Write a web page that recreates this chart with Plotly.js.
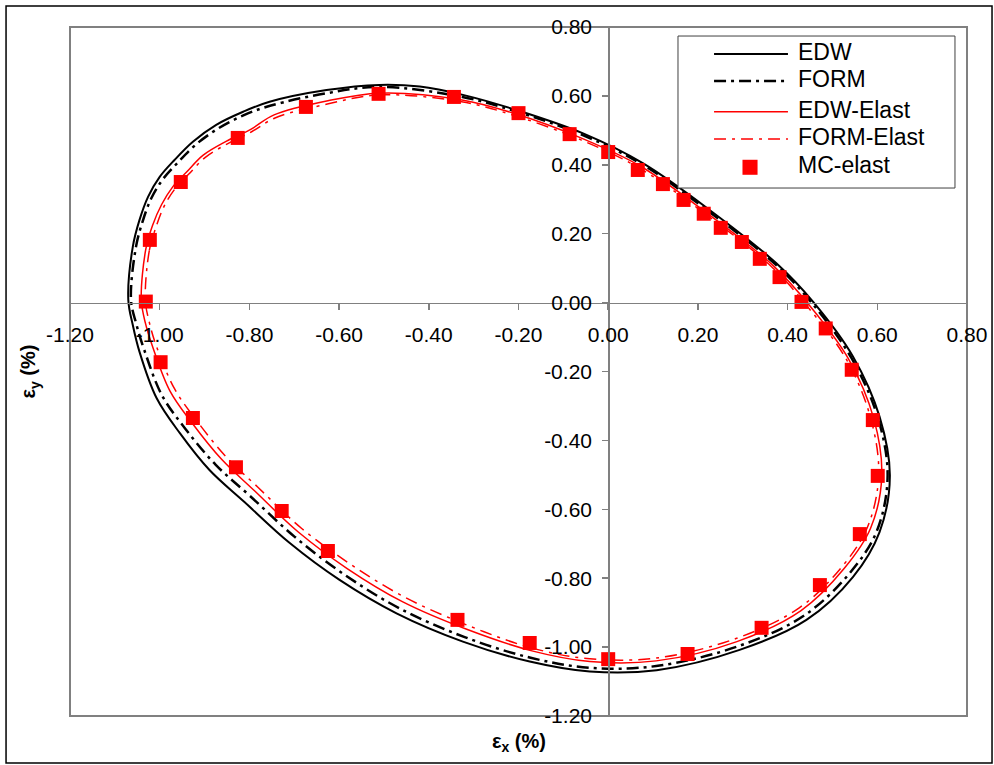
<!DOCTYPE html>
<html>
<head>
<meta charset="utf-8">
<script src="https://cdn.plot.ly/plotly-3.0.1.min.js"></script>
<style>
html,body{margin:0;padding:0;background:#fff;}
#chart{width:994px;height:765px;}
</style>
</head>
<body>
<div id="chart"></div>
<script>
// EDW (black solid)
const edwX = [-1.070,-1.060,-1.045,-1.026,-1.000,-0.967,-0.926,-0.874,-0.814,-0.755,-0.628,-0.510,-0.420,-0.324,-0.205,-0.056,0.078,0.226,0.375,0.457,0.546,0.605,0.628,0.605,0.546,0.442,0.293,0.108,-0.041,-0.175,-0.324,-0.472,-0.599,-0.710,-0.811,-0.889,-0.955,-1.007,-1.045,-1.060,-1.070];
const edwY = [0.008,0.162,0.240,0.307,0.365,0.414,0.467,0.516,0.554,0.583,0.617,0.632,0.627,0.603,0.559,0.491,0.404,0.269,0.114,0.002,-0.157,-0.331,-0.503,-0.666,-0.796,-0.921,-1.008,-1.067,-1.071,-1.042,-0.984,-0.902,-0.805,-0.698,-0.579,-0.486,-0.379,-0.277,-0.143,-0.065,0.008];
// FORM (black dash-dot)
const formX = [-1.064,-1.053,-1.038,-1.019,-0.993,-0.960,-0.920,-0.869,-0.811,-0.752,-0.627,-0.510,-0.325,-0.206,-0.058,0.076,0.224,0.373,0.454,0.542,0.601,0.623,0.599,0.538,0.436,0.291,0.107,-0.041,-0.173,-0.320,-0.466,-0.590,-0.699,-0.798,-0.875,-0.943,-0.995,-1.034,-1.052,-1.064];
const formY = [0.008,0.161,0.236,0.302,0.358,0.406,0.458,0.506,0.545,0.572,0.608,0.626,0.597,0.555,0.487,0.401,0.265,0.111,-0.001,-0.160,-0.333,-0.503,-0.663,-0.786,-0.909,-0.997,-1.055,-1.060,-1.031,-0.971,-0.887,-0.788,-0.680,-0.562,-0.471,-0.366,-0.269,-0.139,-0.063,0.008];
// EDW-Elast (red solid)
const edwElX = [-1.041,-1.031,-1.016,-0.996,-0.971,-0.940,-0.903,-0.852,-0.797,-0.745,-0.625,-0.510,-0.326,-0.207,-0.061,0.073,0.221,0.369,0.448,0.536,0.592,0.610,0.585,0.526,0.430,0.287,0.107,-0.041,-0.170,-0.314,-0.459,-0.582,-0.691,-0.788,-0.862,-0.927,-0.977,-1.015,-1.032,-1.041];
const edwElY = [0.008,0.155,0.224,0.284,0.336,0.379,0.428,0.468,0.503,0.545,0.586,0.608,0.588,0.548,0.478,0.395,0.259,0.106,-0.007,-0.164,-0.336,-0.503,-0.655,-0.772,-0.894,-0.984,-1.040,-1.042,-1.011,-0.949,-0.868,-0.772,-0.666,-0.547,-0.455,-0.351,-0.257,-0.131,-0.059,0.008];
// FORM-Elast (red dash-dot)
const formElX = [-1.032,-1.023,-1.008,-0.990,-0.966,-0.935,-0.899,-0.849,-0.795,-0.743,-0.624,-0.510,-0.327,-0.209,-0.062,0.070,0.219,0.366,0.444,0.532,0.586,0.603,0.578,0.521,0.426,0.285,0.106,-0.041,-0.169,-0.311,-0.454,-0.575,-0.684,-0.781,-0.853,-0.918,-0.967,-1.007,-1.023,-1.032];
const formElY = [0.008,0.152,0.220,0.280,0.330,0.373,0.421,0.461,0.496,0.536,0.577,0.603,0.583,0.543,0.473,0.390,0.255,0.102,-0.011,-0.167,-0.339,-0.503,-0.652,-0.767,-0.886,-0.975,-1.032,-1.034,-1.003,-0.938,-0.855,-0.759,-0.655,-0.536,-0.446,-0.342,-0.250,-0.128,-0.058,0.008];
// MC-elast (red squares)
const mcX = [-1.031,-1.022,-0.953,-0.826,-0.674,-0.512,-0.344,-0.200,-0.086,0.000,0.066,0.122,0.168,0.213,0.251,0.298,0.338,0.382,0.431,0.485,0.543,0.590,0.601,0.561,0.472,0.342,0.177,0.000,-0.175,-0.336,-0.625,-0.728,-0.830,-0.926,-0.998];
const mcY = [0.003,0.182,0.350,0.478,0.568,0.606,0.597,0.550,0.489,0.437,0.385,0.344,0.298,0.258,0.217,0.176,0.127,0.074,0.002,-0.075,-0.195,-0.341,-0.503,-0.672,-0.820,-0.944,-1.020,-1.035,-0.988,-0.921,-0.721,-0.605,-0.478,-0.335,-0.173];

const tickVals = [-1.2,-1.0,-0.8,-0.6,-0.4,-0.2,0,0.2,0.4,0.6,0.8];
const tickText = ['-1.20','-1.00','-0.80','-0.60','-0.40','-0.20','0.00','0.20','0.40','0.60','0.80'];

const seriesNames = ['EDW','FORM','EDW-Elast','FORM-Elast','MC-elast'];

const FONT = '"Liberation Sans", Arial, sans-serif';
const BLACK = '#000000', RED = '#FF0000';
const styles = [
  {color: BLACK, width: 2, dash: 'solid'},
  {color: BLACK, width: 2.5, dash: '12px,5px,3px,5px'},
  {color: RED, width: 1.5, dash: 'solid'},
  {color: RED, width: 1.5, dash: '12px,6px,3px,6px'}
];

const lineData = [[edwX, edwY], [formX, formY], [edwElX, edwElY], [formElX, formElY]];
const traces = lineData.map((d, i) => ({
  x: d[0], y: d[1], name: seriesNames[i], mode: 'lines', type: 'scatter', showlegend: false,
  line: {color: styles[i].color, width: styles[i].width, dash: styles[i].dash, shape: 'spline', smoothing: 1}
}));
traces.push({x: mcX, y: mcY, name: seriesNames[4], mode: 'markers', type: 'scatter', showlegend: false,
  marker: {symbol: 'square', size: 14, color: RED, line: {width: 0}}});

const axisCommon = {
  tickmode: 'array', tickvals: tickVals, ticktext: tickText,
  showgrid: false, zeroline: false, showline: true, linecolor: '#808080', linewidth: 1.5,
  ticks: 'outside', ticklen: 6, tickwidth: 1.5, tickcolor: '#808080',
  tickfont: {family: FONT, size: 21, color: '#000'},
  anchor: 'free', position: 0.6
};

// legend box (drawn in paper coordinates)
const legBox = {x0: 0.6778, x1: 0.9866, y0: 0.7663, y1: 0.9869};
const legRowsY = [0.9608, 0.9216, 0.8771, 0.8374, 0.7964];
const legLineX = [0.7180, 0.8004];
const legTextX = 0.8094;

const shapes = [
  {type: 'rect', xref: 'paper', yref: 'paper', x0: 0, x1: 1, y0: 0, y1: 1,
   line: {color: '#808080', width: 2}, layer: 'below'},
  {type: 'rect', xref: 'paper', yref: 'paper', x0: -0.0713, x1: 1.0279, y0: -0.0682, y1: 1.0305,
   line: {color: '#000000', width: 1.5}},
  {type: 'rect', xref: 'paper', yref: 'paper', x0: legBox.x0, x1: legBox.x1, y0: legBox.y0, y1: legBox.y1,
   line: {color: '#404040', width: 1}, fillcolor: '#ffffff', layer: 'above'}
];
styles.forEach((s, i) => {
  shapes.push({type: 'line', xref: 'paper', yref: 'paper', x0: legLineX[0], x1: legLineX[1],
    y0: legRowsY[i], y1: legRowsY[i], line: {color: s.color, width: s.width, dash: s.dash}, layer: 'above'});
});
// legend square for MC-elast
const mcCx = 0.7581, halfW = 0.0084, halfH = 0.0109;
shapes.push({type: 'rect', xref: 'paper', yref: 'paper', x0: mcCx - halfW, x1: mcCx + halfW,
  y0: legRowsY[4] - halfH, y1: legRowsY[4] + halfH, line: {width: 0}, fillcolor: RED, layer: 'above'});

const annotations = [
  {text: '<b>ε<sub>x</sub> (%)</b>', xref: 'paper', yref: 'paper', x: 0.5, y: -0.039,
   showarrow: false, font: {family: FONT, size: 20, color: '#000'}, xanchor: 'center', yanchor: 'middle'},
  {text: '<b>ε<sub>y</sub> (%)</b>', xref: 'paper', yref: 'paper', x: -0.0446, y: 0.5, textangle: -90,
   showarrow: false, font: {family: FONT, size: 20, color: '#000'}, xanchor: 'center', yanchor: 'middle'}
];
seriesNames.forEach((n, i) => {
  annotations.push({text: n, xref: 'paper', yref: 'paper', x: legTextX, y: legRowsY[i] + 0.003,
    showarrow: false, xanchor: 'left', yanchor: 'middle', font: {family: FONT, size: 23, color: '#000'}});
});

const layout = {
  width: 994, height: 765,
  margin: {l: 70, r: 27, t: 27, b: 49},
  paper_bgcolor: '#ffffff', plot_bgcolor: '#ffffff',
  showlegend: false,
  xaxis: Object.assign({}, axisCommon, {range: [-1.2, 0.8], ticklabelstandoff: 7}),
  yaxis: Object.assign({}, axisCommon, {range: [-1.2, 0.8], ticklabelstandoff: 6}),
  shapes: shapes,
  annotations: annotations
};

Plotly.newPlot('chart', traces, layout, {displayModeBar: false, staticPlot: true});
</script>
</body>
</html>
